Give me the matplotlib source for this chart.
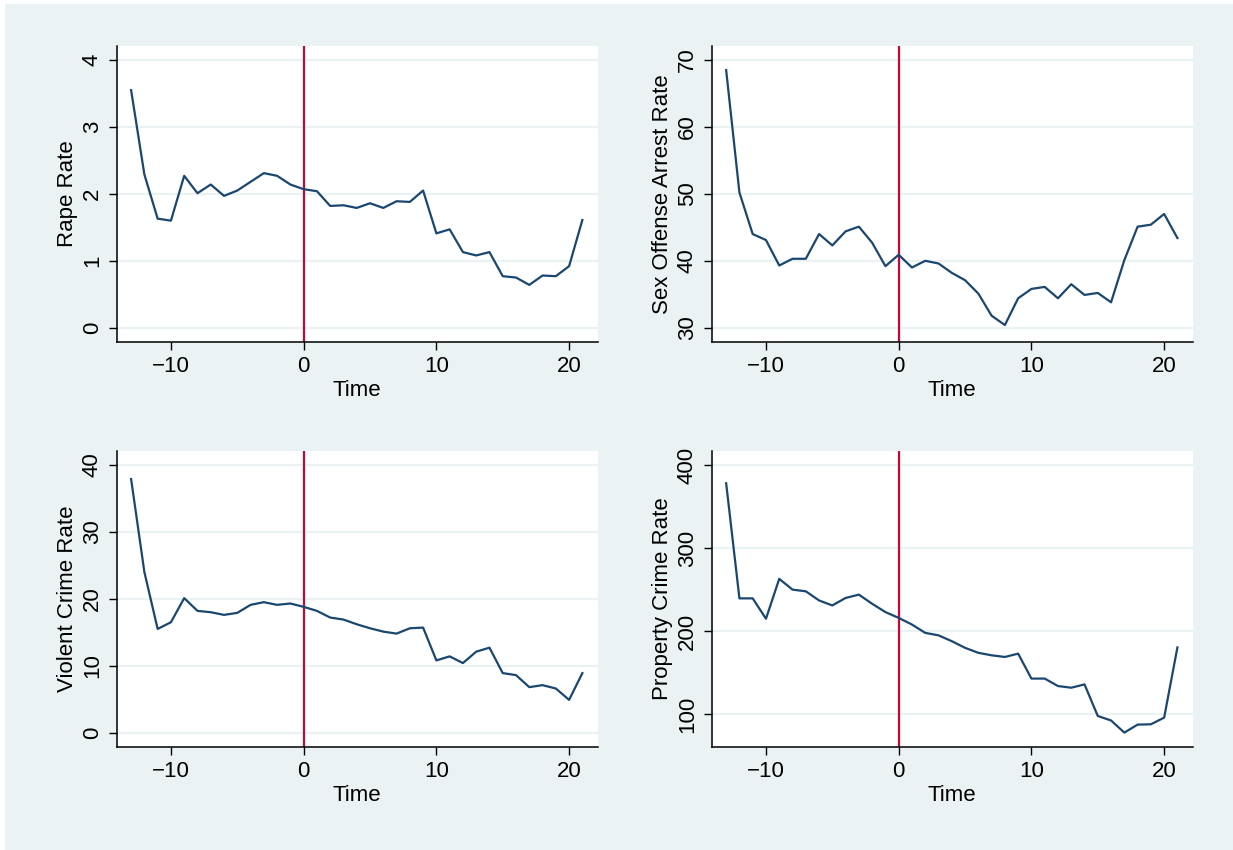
import matplotlib

matplotlib.use("Agg")
import matplotlib.pyplot as plt
from matplotlib.patches import Rectangle

time = list(range(-13, 22))

rape_rate = [3.55, 2.29, 1.63, 1.60, 2.27, 2.01, 2.14, 1.97, 2.05, 2.18, 2.31, 2.27,
             2.14, 2.07, 2.04, 1.82, 1.83, 1.79, 1.86, 1.79, 1.89, 1.88, 2.05, 1.41,
             1.47, 1.13, 1.08, 1.13, 0.77, 0.75, 0.64, 0.78, 0.77, 0.92, 1.61]
sex_offense_rate = [68.5, 50.2, 44.0, 43.1, 39.3, 40.3, 40.3, 44.0, 42.3, 44.4, 45.1, 42.7,
                    39.2, 40.9, 39.0, 40.0, 39.6, 38.2, 37.1, 35.1, 31.8, 30.4, 34.4, 35.8,
                    36.1, 34.4, 36.5, 34.9, 35.2, 33.8, 40.1, 45.1, 45.4, 47.0, 43.4]
violent_rate = [37.9, 24.0, 15.5, 16.5, 20.1, 18.2, 18.0, 17.6, 17.9, 19.1, 19.5, 19.1,
                19.3, 18.8, 18.2, 17.2, 16.9, 16.2, 15.6, 15.1, 14.8, 15.6, 15.7, 10.8,
                11.4, 10.4, 12.1, 12.7, 8.9, 8.6, 6.8, 7.1, 6.6, 4.9, 8.9]
property_rate = [378, 239.5, 239.5, 215, 263, 250, 248, 237, 231, 240, 244, 233,
                 223, 216, 208, 198, 195, 188, 180, 174, 171, 169, 173, 143,
                 143, 134, 132, 136, 98, 92.6, 78, 87.6, 88, 96, 180.5]

panels = [
    ("Rape Rate", rape_rate, [0, 1, 2, 3, 4], (-0.214, 4.214)),
    ("Sex Offense Arrest Rate", sex_offense_rate, [30, 40, 50, 60, 70], (27.86, 72.14)),
    ("Violent Crime Rate", violent_rate, [0, 10, 20, 30, 40], (-2.14, 42.14)),
    ("Property Crime Rate", property_rate, [100, 200, 300, 400], (60.7, 417.2)),
]
x_ticks = [-10, 0, 10, 20]

BG = "#EAF2F3"
LINE = "#1A476F"
RED = "#C4073A"

plt.rcParams["font.family"] = ["Liberation Sans", "DejaVu Sans"]

fig = plt.figure(figsize=(12.33, 8.5), dpi=100, facecolor="white")
fig.patches.append(Rectangle((5 / 1233, 0), 1, 1 - 4 / 850, transform=fig.transFigure,
                             facecolor=BG, edgecolor="none", zorder=-10))

lefts = [0.0946, 0.5772]
bottoms = [0.5976, 0.1212]
w, h = 0.3901, 0.3486

for i, (label, values, yticks, ylim) in enumerate(panels):
    ax = fig.add_axes([lefts[i % 2], bottoms[i // 2], w, h])
    ax.set_facecolor("white")
    for yt in yticks:
        ax.axhline(yt, color=BG, linewidth=1.6, zorder=1)
    ax.axvline(0, color=RED, linewidth=1.6, zorder=2)
    ax.plot(time, values, color=LINE, linewidth=1.6, zorder=3)
    ax.set_xlim(-14.09, 22.15)
    ax.set_ylim(*ylim)
    ax.set_xticks(x_ticks)
    ax.set_xticklabels(["\u221210", "0", "10", "20"])
    ax.set_yticks(yticks)
    ax.set_yticklabels([str(t) for t in yticks], rotation=90, va="center")
    ax.tick_params(axis="both", labelsize=16, length=6, width=1, color="black", pad=4)
    ax.set_xlabel("Time", fontsize=16, labelpad=2)
    ax.set_ylabel(label, fontsize=16, labelpad=3)
    for side in ["top", "right"]:
        ax.spines[side].set_visible(False)
    for side in ["left", "bottom"]:
        ax.spines[side].set_linewidth(1.1)
        ax.spines[side].set_color("black")

fig.savefig("out.png", dpi=100, facecolor=fig.get_facecolor())
plt.close(fig)
